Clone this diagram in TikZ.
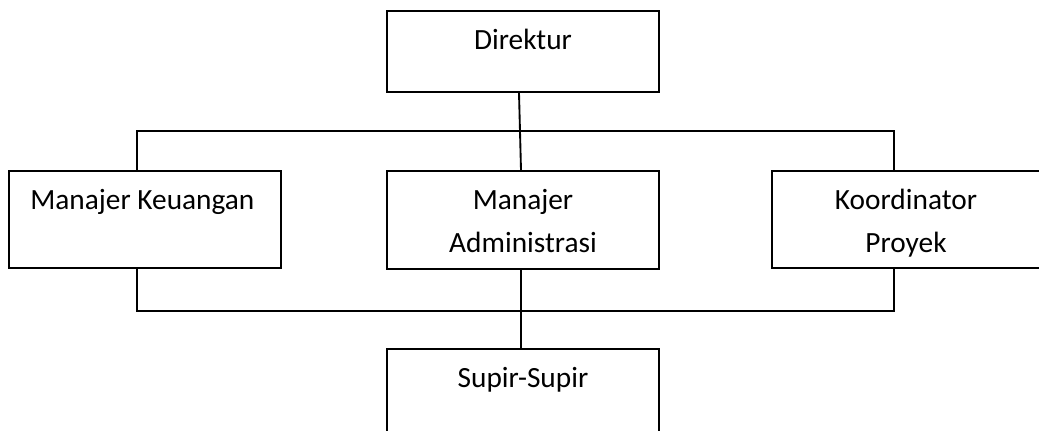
\documentclass[tikz,border=0pt]{standalone}
\usepackage{fontspec}
\setmainfont{Carlito}
\begin{document}
\begin{tikzpicture}[x=0.75pt,y=-0.75pt,
  box/.style={draw=black,line width=1.4pt,rectangle,inner sep=0pt},
  txt/.style={inner sep=0pt,anchor=north,align=center,font=\fontsize{22}{32.25}\selectfont},
  conn/.style={draw=black,line width=1.4pt}]
\useasboundingbox (0,0) rectangle (1039,430);
\clip (0,0) rectangle (1039,430);
\node[box,minimum width=204pt,minimum height=60.75pt] (dir) at (523,51.5) {};
\node[box,minimum width=204pt,minimum height=72.75pt] (keu) at (145,219.5) {};
\node[box,minimum width=204pt,minimum height=73.5pt] (adm) at (523,220) {};
\node[box,minimum width=201pt,minimum height=72.75pt] (koo) at (906,219.5) {};
\node[box,minimum width=204pt,minimum height=62.25pt] (sup) at (523,390.5) {};
\node[txt] (tdir) at ([yshift=-14pt]dir.north) {Direktur};
\node[txt] (tkeu) at ([yshift=-14pt,xshift=-2pt]keu.north) {Manajer Keuangan};
\node[txt] (tadm) at ([yshift=-14pt]adm.north) {Manajer\\Administrasi};
\node[txt] (tkoo) at ([yshift=-14pt]koo.north) {Koordinator\\Proyek};
\node[txt] (tsup) at ([yshift=-14pt]sup.north) {Supir-Supir};
\coordinate (tl) at (137,131);
\coordinate (tr) at (894,131);
\coordinate (bl) at (137,311);
\coordinate (br) at (894,311);
\draw[conn] ([xshift=-3pt]dir.south) -- ([xshift=-1.5pt]adm.north);
\draw[conn] (keu.north -| tl) -- (tl) -- (tr) -- (koo.north -| tr);
\draw[conn] (keu.south -| bl) -- (bl) -- (br) -- (koo.south -| br);
\draw[conn] ([xshift=-1.5pt]adm.south) -- ([xshift=-1.5pt]sup.north);
\end{tikzpicture}
\end{document}
